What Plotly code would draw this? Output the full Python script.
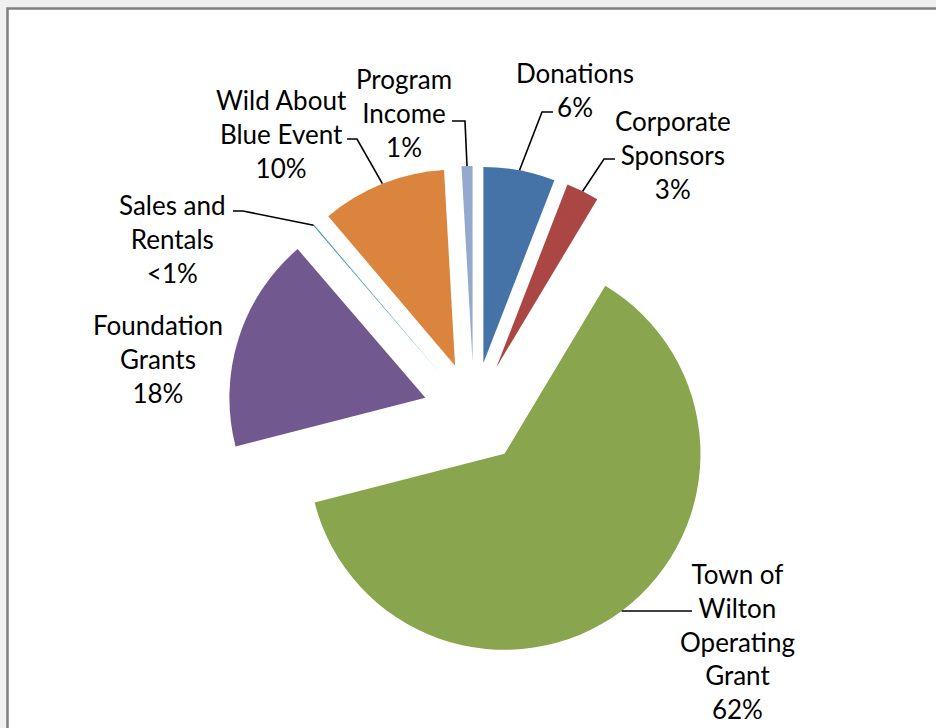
import math
import plotly.graph_objects as go

# ---- data ----
categories = ["Donations", "Corporate Sponsors", "Town of Wilton Operating Grant",
              "Foundation Grants", "Sales and Rentals", "Wild About Blue Event", "Program Income"]
shares = [5.9, 2.7, 62.4, 17.7, 0.1, 10.3, 0.9]
label_texts = ["Donations<br>6%", "Corporate<br>Sponsors<br>3%",
               "Town of<br>Wilton<br>Operating<br>Grant<br>62%",
               "Foundation<br>Grants<br>18%", "Sales and<br>Rentals<br><1%",
               "Wild About<br>Blue Event<br>10%", "Program<br>Income<br>1%"]

# ---- style / layout ----
colors = ["#4572A7", "#AA4643", "#89A54E", "#71588F", "#4198AF", "#DB843D", "#93A9CF"]
W, H = 936, 728
CX, CY = 474, 413          # pie centre (px)
R = 196                    # slice radius (px)
PULL = 0.26                # explode fraction
FONT = dict(family="Lato, Carlito, Calibri, sans-serif", size=26, color="#000000")

# label centres (px) and leader elbow / end points (px)
label_pos = [(575, 90), (673, 155), (737, 641), (158, 359), (172, 239), (281, 134), (404, 113)]
leader_pts = [[(542, 112), (553, 112)],
              [(604, 159), (615, 159)],
              [(692, None)],
              [],
              [(243, 211), (233, 211)],
              [(357, 139), (347, 139)],
              [(465, 121), (452, 121)]]


def px(x, y):
    return x / W, 1 - y / H


S = 2 * R * (1 + PULL)
dom_x = [(CX - S / 2) / W, (CX + S / 2) / W]
dom_y = [1 - (CY + S / 2) / H, 1 - (CY - S / 2) / H]

fig = go.Figure(go.Pie(
    labels=categories, values=shares, sort=False, direction="clockwise", rotation=0,
    pull=[PULL] * len(shares), marker=dict(colors=colors, line=dict(width=0)),
    textinfo="none", hoverinfo="label+percent", showlegend=False,
    domain=dict(x=dom_x, y=dom_y),
))

shapes = [dict(type="rect", xref="paper", yref="paper",
               x0=7.5 / W, x1=1.05, y0=-0.05, y1=1 - 8.5 / H,
               fillcolor="white", line=dict(color="#808080", width=2.5), layer="below")]

total = sum(shares)
cum = 0.0
annotations = []
for i, v in enumerate(shares):
    mid = (cum + v / 2) / total * 2 * math.pi
    cum += v
    ax = CX + R * (1 + PULL) * math.sin(mid)
    ay = CY - R * (1 + PULL) * math.cos(mid)
    pts = [(ax, ay)] + [(x, ay if y is None else y) for x, y in leader_pts[i]]
    if len(pts) > 1:
        path = ""
        for j, (x, y) in enumerate(pts):
            X, Y = px(x, y)
            path += ("M" if j == 0 else " L") + f" {X:.5f} {Y:.5f}"
        shapes.append(dict(type="path", xref="paper", yref="paper", path=path,
                           line=dict(color="#000000", width=1.6), layer="above"))
    lx, ly = px(*label_pos[i])
    annotations.append(dict(x=lx, y=ly, xref="paper", yref="paper", text=label_texts[i],
                            showarrow=False, align="center", xanchor="center",
                            yanchor="middle", font=FONT))

fig.update_layout(width=W, height=H, margin=dict(l=0, r=0, t=0, b=0),
                  paper_bgcolor="#F0F0F0", plot_bgcolor="white",
                  shapes=shapes, annotations=annotations)

fig.write_html("out.html", config={"displayModeBar": False},
               post_script="document.body.style.margin='0';document.body.style.overflow='hidden';")
